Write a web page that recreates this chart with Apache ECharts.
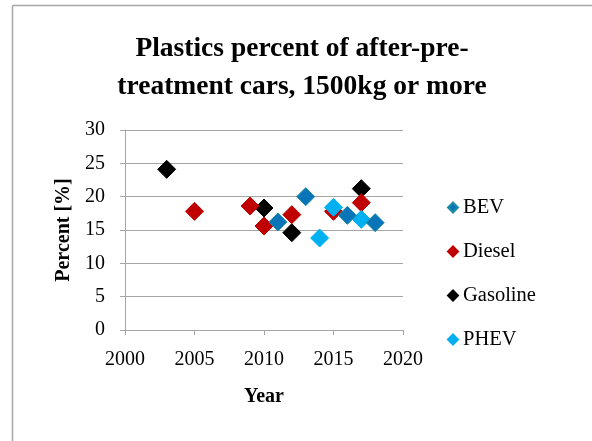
<!DOCTYPE html>
<html>
<head>
<meta charset="utf-8">
<script src="https://cdn.jsdelivr.net/npm/echarts@6/dist/echarts.min.js"></script>
<style>
  html, body { margin: 0; padding: 0; background: #fff; }
  #chart { width: 592px; height: 441px; }
</style>
</head>
<body>
<div id="chart"></div>
<script>
// Plastics share (%) by model year, per powertrain
const bevData      = [[2011, 16.2], [2013, 20.0], [2016, 17.2], [2018, 16.1]];
const dieselData   = [[2005, 17.8], [2009, 18.6], [2010, 15.6], [2012, 17.3], [2015, 17.8], [2017, 19.1]];
const gasolineData = [[2003, 24.1], [2010, 18.3], [2012, 14.6], [2017, 21.2]];
const phevData     = [[2014, 13.8], [2015, 18.4], [2017, 16.6]];

const seriesNames = ['BEV', 'Diesel', 'Gasoline', 'PHEV'];
const xTicks = { min: 2000, max: 2020, step: 5 };
const yTicks = { min: 0, max: 30, step: 5 };

const FONT = '"Liberation Serif", "DejaVu Serif", serif';
const GRID_GRAY = '#A6A6A6';

function scatter(name, data, color, border, z) {
  return {
    name: name,
    type: 'scatter',
    data: data,
    symbol: 'diamond',
    symbolSize: 18,
    z: z,
    itemStyle: { color: color, borderColor: border, borderWidth: 1, opacity: 1 },
    emphasis: { disabled: true }
  };
}

const chart = echarts.init(document.getElementById('chart'), null, { renderer: 'canvas' });
chart.setOption({
  animation: false,
  backgroundColor: '#fff',
  title: {
    text: 'Plastics percent of after-pre-\ntreatment cars, 1500kg or more',
    left: 297,
    textAlign: 'center',
    top: 25,
    textStyle: { fontFamily: FONT, fontWeight: 'bold', fontSize: 27.5, lineHeight: 38, color: '#000' }
  },
  grid: { left: 125, top: 130, width: 278, height: 200 },
  legend: {
    data: seriesNames,
    orient: 'vertical',
    left: 442,
    top: 192,
    itemWidth: 10,
    itemHeight: 10,
    itemGap: 23,
    icon: 'diamond',
    textStyle: { fontFamily: FONT, fontSize: 20.5, lineHeight: 20, color: '#000' }
  },
  xAxis: {
    type: 'value',
    min: xTicks.min, max: xTicks.max, interval: xTicks.step,
    name: 'Year',
    nameLocation: 'middle',
    nameGap: 57,
    nameTextStyle: { fontFamily: FONT, fontWeight: 'bold', fontSize: 20, color: '#000' },
    axisLine: { show: true, lineStyle: { color: GRID_GRAY, width: 1 } },
    axisTick: { show: true, length: 5, lineStyle: { color: GRID_GRAY } },
    axisLabel: { fontFamily: FONT, fontSize: 20, color: '#000', margin: 20, formatter: v => String(v) },
    splitLine: { show: false }
  },
  yAxis: {
    type: 'value',
    min: yTicks.min, max: yTicks.max, interval: yTicks.step,
    name: 'Percent [%]',
    nameLocation: 'middle',
    nameGap: 51,
    nameTextStyle: { fontFamily: FONT, fontWeight: 'bold', fontSize: 20, color: '#000' },
    axisLine: { show: true, lineStyle: { color: GRID_GRAY, width: 1 } },
    axisTick: { show: true, length: 5, lineStyle: { color: GRID_GRAY } },
    axisLabel: { fontFamily: FONT, fontSize: 20, color: '#000', margin: 20 },
    splitLine: { show: true, lineStyle: { color: GRID_GRAY, width: 1 } }
  },
  graphic: [
    { type: 'line', shape: { x1: 12.5, y1: 5.5, x2: 12.5, y2: 441 }, style: { stroke: GRID_GRAY, lineWidth: 1.5 } },
    { type: 'line', shape: { x1: 12.5, y1: 5.5, x2: 592, y2: 5.5 }, style: { stroke: GRID_GRAY, lineWidth: 1.5 } }
  ],
  series: [
    scatter('BEV', bevData, '#0A74B8', '#1C8FA6', 5),
    scatter('Diesel', dieselData, '#C00000', '#C00000', 3),
    scatter('Gasoline', gasolineData, '#000000', '#000000', 2),
    scatter('PHEV', phevData, '#00B0F0', '#00B0F0', 4)
  ]
});
</script>
</body>
</html>
